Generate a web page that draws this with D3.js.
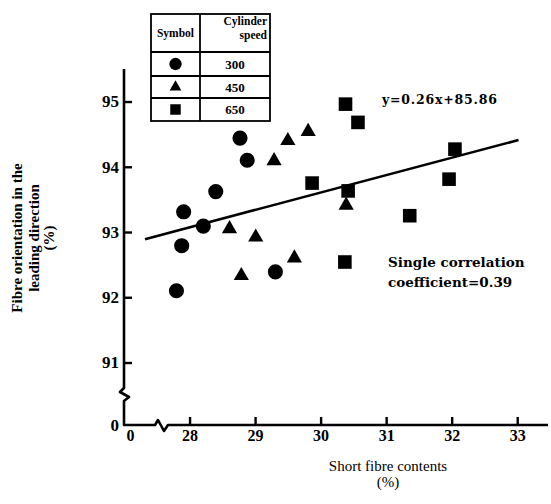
<!DOCTYPE html>
<html>
<head>
<meta charset="utf-8">
<script src="https://cdn.jsdelivr.net/npm/d3@7"></script>
<style>
  body { margin: 0; background: #fff; }
  svg text { font-family: "Liberation Serif", "DejaVu Serif", serif; fill: #000; }
</style>
</head>
<body>
<div id="chart"></div>
<script>
// Data: short fibre content (%) vs fibre orientation (%)
const speeds = ["300", "450", "650"];
const shapes = ["circle", "triangle", "square"];

const fibre300 = [27.80, 27.88, 27.91, 28.21, 28.40, 28.77, 28.88, 29.31];
const orient300 = [92.10, 92.79, 93.31, 93.09, 93.62, 94.44, 94.10, 92.39];

const fibre450 = [28.61, 28.79, 29.01, 29.29, 29.50, 29.60, 29.81, 30.39];
const orient450 = [93.05, 92.33, 92.92, 94.09, 94.40, 92.60, 94.54, 93.41];

const fibre650 = [29.87, 30.37, 30.38, 30.42, 30.57, 31.36, 31.96, 32.05];
const orient650 = [93.75, 92.54, 94.96, 93.63, 94.68, 93.25, 93.81, 94.27];

// regression line end points (y = 0.26x + 85.86)
const fitX = [27.32, 33.02];
const fitY = [92.89, 94.41];

const xTicks = [0, 28, 29, 30, 31, 32, 33];
const yTicks = [0, 91, 92, 93, 94, 95];

const width = 551, height = 504;

const svg = d3.select("#chart")
    .append("svg")
    .attr("width", width)
    .attr("height", height);

// Broken axes: piecewise scales jump from 0 to the data range
const x = d3.scaleLinear()
    .domain([0, 27.25, 33.47])
    .range([130, 140.4, 548]);

const y = d3.scaleLinear()
    .domain([0, 91, 95.5])
    .range([425, 362.5, 68.9]);

const axisX0 = 124;   // where the y axis sits
const axisY0 = y(0);

// Axis lines with break zigzags
const axisPath = d3.path();
axisPath.moveTo(axisX0, y(95.5));
axisPath.lineTo(axisX0, 388);
axisPath.lineTo(120, 392);
axisPath.lineTo(129, 397);
axisPath.lineTo(axisX0, 401);
axisPath.lineTo(axisX0, axisY0);
axisPath.lineTo(155, axisY0);
axisPath.lineTo(158, 420);
axisPath.lineTo(164, 431);
axisPath.lineTo(168, axisY0);
axisPath.lineTo(x(33.47), axisY0);

svg.append("path")
    .attr("d", axisPath.toString())
    .attr("fill", "none")
    .attr("stroke", "#000")
    .attr("stroke-width", 2.6)
    .attr("stroke-linejoin", "round");

// Y axis ticks (inward)
const yAxis = svg.append("g")
    .attr("transform", `translate(${axisX0},0)`)
    .call(d3.axisLeft(y).tickValues(yTicks).tickSize(-8).tickPadding(5).tickFormat(d3.format("d")));
yAxis.select(".domain").remove();
yAxis.selectAll(".tick line").attr("stroke-width", 2.4).filter(d => d === 0).remove();
yAxis.selectAll(".tick text")
    .style("font-size", "17px")
    .style("font-weight", "bold")
    .style("font-family", "'Liberation Serif', serif");

// X axis ticks (inward)
const xAxis = svg.append("g")
    .attr("transform", `translate(0,${axisY0})`)
    .call(d3.axisBottom(x).tickValues(xTicks).tickSize(-8).tickPadding(5).tickFormat(d3.format("d")));
xAxis.select(".domain").remove();
xAxis.selectAll(".tick line").attr("stroke-width", 2.4).filter(d => d === 0).remove();
xAxis.selectAll(".tick text")
    .style("font-size", "16px")
    .style("font-weight", "bold")
    .style("font-family", "'Liberation Serif', serif");

// Regression line
svg.append("path")
    .datum(d3.zip(fitX, fitY))
    .attr("fill", "none")
    .attr("stroke", "#000")
    .attr("stroke-width", 2.6)
    .attr("d", d3.line().x(d => x(d[0])).y(d => y(d[1])));

// Markers
const symbolFor = {
    circle: d3.symbol().type(d3.symbolCircle).size(180),
    triangle: d3.symbol().type(d3.symbolTriangle).size(100),
    square: d3.symbol().type(d3.symbolSquare).size(185)
};

const groups = [
    {shape: "circle", xs: fibre300, ys: orient300},
    {shape: "triangle", xs: fibre450, ys: orient450},
    {shape: "square", xs: fibre650, ys: orient650}
];

groups.forEach(g => {
    svg.append("g")
        .selectAll("path")
        .data(d3.zip(g.xs, g.ys))
        .enter()
        .append("path")
        .attr("d", symbolFor[g.shape]())
        .attr("transform", d => `translate(${x(d[0])},${y(d[1])})`)
        .attr("fill", "#000");
});

// Legend table
const tbl = {left: 151, right: 270, mid: 200, rows: [14, 52, 76, 98, 121]};
const legend = svg.append("g").attr("stroke", "#000").attr("stroke-width", 1.8).attr("fill", "none");
legend.append("rect")
    .attr("x", tbl.left).attr("y", tbl.rows[0])
    .attr("width", tbl.right - tbl.left).attr("height", tbl.rows[4] - tbl.rows[0]);
legend.append("line")
    .attr("x1", tbl.mid).attr("x2", tbl.mid)
    .attr("y1", tbl.rows[0]).attr("y2", tbl.rows[4]);
tbl.rows.slice(1, 4).forEach(r => {
    legend.append("line")
        .attr("x1", tbl.left).attr("x2", tbl.right)
        .attr("y1", r).attr("y2", r);
});

svg.append("text")
    .attr("x", (tbl.left + tbl.mid) / 2).attr("y", 37)
    .attr("text-anchor", "middle")
    .style("font-size", "11.5px").style("font-weight", "bold")
    .text("Symbol");
svg.append("text")
    .attr("x", 267).attr("y", 25)
    .attr("text-anchor", "end")
    .style("font-size", "11.5px").style("font-weight", "bold")
    .text("Cylinder");
svg.append("text")
    .attr("x", 267).attr("y", 39)
    .attr("text-anchor", "end")
    .style("font-size", "11.5px").style("font-weight", "bold")
    .text("speed");

const legendSymbol = {
    circle: d3.symbol().type(d3.symbolCircle).size(120),
    triangle: d3.symbol().type(d3.symbolTriangle).size(60),
    square: d3.symbol().type(d3.symbolSquare).size(110)
};

speeds.forEach((s, i) => {
    const cy = (tbl.rows[i + 1] + tbl.rows[i + 2]) / 2;
    svg.append("path")
        .attr("d", legendSymbol[shapes[i]]())
        .attr("transform", `translate(${(tbl.left + tbl.mid) / 2},${cy})`)
        .attr("fill", "#000");
    svg.append("text")
        .attr("x", (tbl.mid + tbl.right) / 2)
        .attr("y", cy)
        .attr("dy", "0.36em")
        .attr("text-anchor", "middle")
        .style("font-size", "13px").style("font-weight", "bold")
        .text(s);
});

// Annotations
svg.append("text")
    .attr("x", 382).attr("y", 104)
    .style("font-family", "'DejaVu Serif', serif")
    .style("font-size", "12.5px").style("font-weight", "bold")
    .style("letter-spacing", "0.8px")
    .text("y=0.26x+85.86");

svg.append("text")
    .attr("x", 388).attr("y", 267)
    .style("font-family", "'DejaVu Serif', serif")
    .style("font-size", "13.5px").style("font-weight", "bold")
    .text("Single correlation");
svg.append("text")
    .attr("x", 388).attr("y", 287)
    .style("font-family", "'DejaVu Serif', serif")
    .style("font-size", "13.5px").style("font-weight", "bold")
    .text("coefficient=0.39");

// Axis titles
svg.append("text")
    .attr("x", 388).attr("y", 471)
    .attr("text-anchor", "middle")
    .style("font-size", "15px")
    .text("Short fibre contents");
svg.append("text")
    .attr("x", 388).attr("y", 487)
    .attr("text-anchor", "middle")
    .style("font-size", "15px")
    .text("(%)");

const yTitle = ["Fibre orientation in the", "leading direction", "(%)"];
const yTitleX = [17, 34, 49];
yTitle.forEach((t, i) => {
    svg.append("text")
        .attr("transform", `translate(${yTitleX[i]},238) rotate(-90)`)
        .attr("dy", "0.35em")
        .attr("text-anchor", "middle")
        .style("font-size", "15px").style("font-weight", "bold")
        .text(t);
});
</script>
</body>
</html>
